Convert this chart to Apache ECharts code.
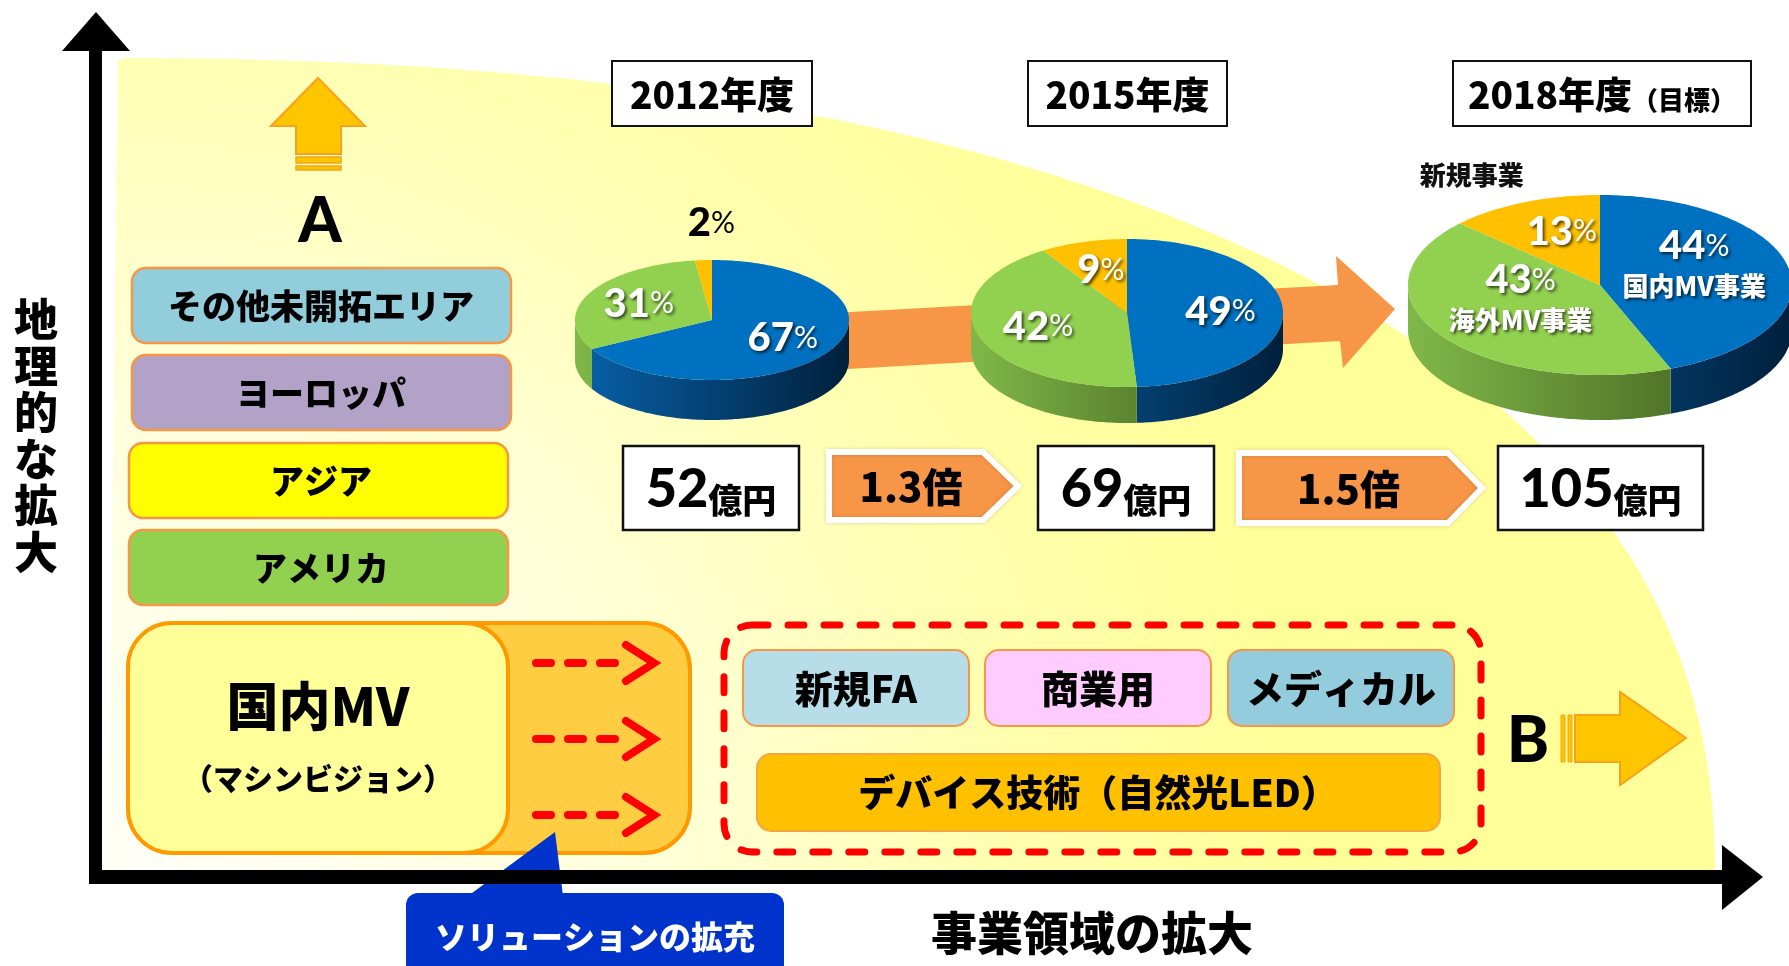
<!DOCTYPE html>
<html><head><meta charset="utf-8">
<script src="https://cdn.jsdelivr.net/npm/echarts@6/dist/echarts.min.js"></script>
<style>html,body{margin:0;padding:0;background:#fff}#c{width:1789px;height:966px}</style>
</head><body><div id="c"></div>
<script>
// ---------------- data ----------------
const categories = ['国内MV事業', '海外MV事業', '新規事業'];
const years = ['2012年度', '2015年度', '2018年度'];
const yearNotes = ['', '', '（目標）'];
const share2012 = [67, 31, 2];
const share2015 = [49, 42, 9];
const share2018 = [44, 43, 13];
const salesOku = [52, 69, 105];
const salesUnit = '億円';
const growthLabels = ['1.3倍', '1.5倍'];
const regions = ['その他未開拓エリア', 'ヨーロッパ', 'アジア', 'アメリカ'];
const newFields = ['新規FA', '商業用', 'メディカル'];
const deviceTech = 'デバイス技術（自然光LED）';
const coreBiz = '国内MV';
const coreBizSub = '（マシンビジョン）';
const solution = 'ソリューションの拡充';
const axisY = '地理的な拡大';
const axisX = '事業領域の拡大';

// ---------------- layout / style ----------------
const JP = '"Noto Sans CJK JP", "Noto Sans", sans-serif';
const NUM = 'Lato, "Noto Sans", sans-serif';
const W = 900;
const pieGeo = [
  {cx: 712, cy: 320, rx: 137, ry: 60, d: 40, lr: 0.6, names: false},
  {cx: 1127, cy: 313, rx: 156, ry: 74, d: 36, lr: 0.6, names: false},
  {cx: 1600, cy: 285, rx: 192, ry: 90, d: 45, lr: 0.5, names: true}
];
const catColors = ['#0070C0', '#92D050', '#FFC000'];
const sideColors = [['#0862AA', '#00203C'], ['#80B848', '#3A551A'], ['#E6AE00', '#785600']];

const shares = [share2012, share2015, share2018];
const pieData = [];
shares.forEach((arr, p) => {
  const tot = arr.reduce((a, b) => a + b, 0);
  let cum = 0;
  arr.forEach((v, c) => {
    pieData.push([p, c, v, cum / tot * 360, (cum + v) / tot * 360]);
    cum += v;
  });
});

function renderPie(params, api) {
  const p = api.value(0), c = api.value(1), v = api.value(2), a1 = api.value(3), a2 = api.value(4);
  const g = pieGeo[p];
  const pt = (deg, dy, f) => {
    const r = deg * Math.PI / 180; f = f || 1; dy = dy || 0;
    return [g.cx + g.rx * f * Math.sin(r), g.cy - g.ry * f * Math.cos(r) + dy];
  };
  const children = [];
  const s = Math.max(a1, 90), e = Math.min(a2, 270);
  if (e > s) {
    const pts = [];
    for (let t = s; t < e; t += 1) pts.push(pt(t));
    pts.push(pt(e));
    for (let t = e; t > s; t -= 1) pts.push(pt(t, g.d));
    pts.push(pt(s, g.d));
    children.push({type: 'polygon', z2: 1, shape: {points: pts},
      style: {fill: new echarts.graphic.LinearGradient(g.cx - g.rx, 0, g.cx + g.rx, 0,
        [{offset: 0, color: sideColors[c][0]}, {offset: 1, color: sideColors[c][1]}], true)}});
  }
  const tp = [[g.cx, g.cy]];
  for (let t = a1; t < a2; t += 1) tp.push(pt(t));
  tp.push(pt(a2));
  children.push({type: 'polygon', z2: 2, shape: {points: tp}, style: {fill: catColors[c]}});

  const mid = (a1 + a2) / 2;
  const pctText = '{n|' + v + '}{p|%}';
  const shadow = {textShadowColor: 'rgba(0,0,0,0.65)', textShadowBlur: 3, textShadowOffsetX: 2, textShadowOffsetY: 2};
  const richW = {n: {fontSize: 40, fontWeight: W, fontFamily: NUM, fill: '#fff'},
                 p: {fontSize: 30, fontWeight: 'normal', fontFamily: NUM, fill: '#fff'}};
  const richB = {n: {fontSize: 40, fontWeight: W, fontFamily: NUM, fill: '#000'},
                 p: {fontSize: 30, fontWeight: 'normal', fontFamily: NUM, fill: '#000'}};
  if (v < 5) {
    const q = pt(mid, 0, 1);
    children.push({type: 'text', z2: 5, x: q[0] + 8, y: g.cy - g.ry - 37,
      style: {text: pctText, rich: richB, align: 'center', verticalAlign: 'middle'}});
  } else {
    const q = pt(mid, 0, g.lr);
    let py = q[1];
    if (g.names && v >= 20) py = q[1] - 30;
    if (g.names && v < 20) py = q[1] - 12;
    children.push({type: 'text', z2: 5, x: q[0], y: py,
      style: Object.assign({text: pctText, rich: richW, align: 'center', verticalAlign: 'middle'}, shadow)});
    if (g.names) {
      if (v >= 20) {
        children.push({type: 'text', z2: 5, x: q[0], y: q[1] + 10,
          style: Object.assign({text: categories[c], fontSize: 26, fontWeight: W, fontFamily: JP,
            fill: '#fff', align: 'center', verticalAlign: 'middle'}, shadow)});
      } else {
        const o = pt(mid, 0, 1);
        children.push({type: 'text', z2: 5, x: o[0], y: g.cy - g.ry - 20,
          style: {text: categories[c], fontSize: 26, fontWeight: W, fontFamily: JP,
            fill: '#111', align: 'right', verticalAlign: 'middle'}});
      }
    }
  }
  return {type: 'group', children: children};
}

// ---------------- decorations (graphic) ----------------
const els = [];
function rect(x, y, w, h, r, style, z) {
  els.push({type: 'rect', z: z == null ? 3 : z, shape: {x: x, y: y, width: w, height: h, r: r}, style: style});
}
function poly(points, style, z) {
  els.push({type: 'polygon', z: z == null ? 3 : z, shape: {points: points}, style: style});
}
function line(pts, style, z) {
  els.push({type: 'polyline', z: z == null ? 3 : z, shape: {points: pts}, style: style});
}
function text(x, y, t, size, extra, z) {
  els.push({type: 'text', z: z == null ? 4 : z, x: x, y: y,
    style: Object.assign({text: t, fontSize: size, fontWeight: W, fontFamily: JP, fill: '#000',
      align: 'center', verticalAlign: 'middle'}, extra || {})});
}

// yellow quarter-region background
(function () {
  const cx = 100, cy = 880, a = 1615, b = 822, n = 2.3;
  const pts = [[108, 870], [118, 62]];
  for (let i = 0; i <= 200; i++) {
    const t = Math.PI / 2 * (1 - i / 200);
    const x = cx + a * Math.pow(Math.cos(t), 2 / n);
    const y = cy - b * Math.pow(Math.sin(t), 2 / n);
    if (x >= 118) pts.push([x, Math.min(y, 870)]);
  }
  pts.push([1715, 870]);
  poly(pts, {fill: new echarts.graphic.RadialGradient(160, 870, 1150,
    [{offset: 0, color: '#FFFFF8'}, {offset: 0.4, color: '#FFFFDC'}, {offset: 0.75, color: '#FFFFAE'}, {offset: 1, color: '#FFFF99'}], true)}, 0);
})();

// big orange arrow behind pies
poly([[760, 317], [1338, 285], [1336, 256], [1395, 309], [1343, 368], [1340, 341], [760, 374]],
  {fill: '#F79646'}, 1);

// axes
rect(89, 45, 13, 839, 0, {fill: '#000'}, 6);
poly([[62, 51], [96, 12], [130, 51]], {fill: '#000'}, 6);
rect(89, 870, 1636, 14, 0, {fill: '#000'}, 6);
poly([[1722, 845], [1763, 877], [1722, 910]], {fill: '#000'}, 6);
text(36, 436, axisY.split('').join('\n'), 44, {lineHeight: 46.5});
text(1092, 933, axisX, 46);

// up arrow A
poly([[271, 126], [318, 78], [365, 126], [341, 126], [341, 154], [296, 154], [296, 126]],
  {fill: '#FFC600', stroke: '#F7A21E', lineWidth: 2});
rect(296, 157, 45, 6, 0, {fill: '#FFC600', stroke: '#F7A21E', lineWidth: 1.5});
rect(296, 166, 45, 4, 0, {fill: '#FFC600', stroke: '#F7A21E', lineWidth: 1.5});
text(320, 222, 'A', 62, {fontFamily: NUM});

// region boxes
const regionColors = ['#92CDDC', '#B2A2C7', '#FFFF00', '#92D050'];
const regionY = [268, 355, 443, 530];
regions.forEach((r, i) => {
  rect(i < 2 ? 132 : 129, regionY[i], 379, 75, 14, {fill: regionColors[i], stroke: '#F79646', lineWidth: 2.5});
  text(321, regionY[i] + 38, r, 34);
});

// core business block
rect(250, 623, 440, 230, 46, {fill: '#FFCD41', stroke: '#FF9900', lineWidth: 4});
rect(128, 623, 380, 230, 44, {fill: '#FFFF99', stroke: '#FF9900', lineWidth: 4});
text(318, 706, coreBiz, 52);
text(318, 779, coreBizSub, 30);
[663, 739, 815].forEach(y => {
  line([[536, y], [617, y]], {stroke: '#FF0000', lineWidth: 8, lineDash: [15, 17], lineCap: 'round', fill: null});
  line([[626, y - 18], [654, y], [626, y + 18]], {stroke: '#FF0000', lineWidth: 8, lineCap: 'round', lineJoin: 'miter', fill: null});
});

// solution callout
poly([[468, 896], [555, 832], [563, 896]], {fill: '#0033CC'}, 5);
rect(406, 893, 378, 95, 12, {fill: '#0033CC'}, 5);
text(595, 937, solution, 32, {fill: '#fff'}, 6);

// new fields dashed frame
rect(724, 625, 757, 227, 28, {fill: null, stroke: '#FF0000', lineWidth: 7, lineDash: [16, 20], lineCap: 'round'});
const fieldColors = ['#B7DEE8', '#FFCCFF', '#93CDDD'];
const fieldX = [743, 985, 1228];
newFields.forEach((f, i) => {
  rect(fieldX[i], 650, 226, 76, 14, {fill: fieldColors[i], stroke: '#F79646', lineWidth: 2});
  text(fieldX[i] + 113, 689, f, 38);
});
rect(757, 754, 683, 77, 14, {fill: '#FFC000', stroke: '#F7A540', lineWidth: 2});
text(1098, 793, deviceTech, 37);

// B arrow
text(1528, 741, 'B', 64, {fontFamily: NUM});
rect(1561, 715, 4, 47, 0, {fill: '#FFC600', stroke: '#F7A21E', lineWidth: 1});
rect(1568, 715, 4, 47, 0, {fill: '#FFC600', stroke: '#F7A21E', lineWidth: 1});
poly([[1575, 715], [1620, 715], [1620, 692], [1686, 738], [1620, 785], [1620, 762], [1575, 762]],
  {fill: '#FFC600', stroke: '#F7A21E', lineWidth: 2});

// year boxes
const yearBox = [[612, 61, 200], [1028, 61, 199], [1453, 61, 298]];
years.forEach((y, i) => {
  const b = yearBox[i];
  rect(b[0], b[1], b[2], 65, 0, {fill: '#fff', stroke: '#111', lineWidth: 2});
  els.push({type: 'text', z: 4, x: b[0] + b[2] / 2, y: b[1] + 34,
    style: {text: '{a|' + y + '}' + (yearNotes[i] ? '{b|' + yearNotes[i] + '}' : ''),
      align: 'center', verticalAlign: 'middle',
      rich: {a: {fontSize: 37, fontWeight: W, fontFamily: JP, fill: '#000', verticalAlign: 'bottom'},
             b: {fontSize: 26, fontWeight: W, fontFamily: JP, fill: '#000', verticalAlign: 'bottom'}}}});
});

// sales boxes
const salesBox = [[623, 176], [1038, 176], [1498, 205]];
salesOku.forEach((v, i) => {
  const b = salesBox[i];
  rect(b[0], 446, b[1], 84, 0, {fill: '#fff', stroke: '#111', lineWidth: 2.5});
  els.push({type: 'text', z: 4, x: b[0] + b[1] / 2, y: 490,
    style: {text: '{n|' + v + '}{u|' + salesUnit + '}', align: 'center', verticalAlign: 'middle',
      rich: {n: {fontSize: 54, fontWeight: W, fontFamily: NUM, fill: '#000', verticalAlign: 'bottom'},
             u: {fontSize: 34, fontWeight: W, fontFamily: JP, fill: '#000', verticalAlign: 'bottom'}}}});
});

// growth arrows
const growthGeo = [[829, 983, 1018, 452, 520], [1239, 1448, 1482, 453, 523]];
growthLabels.forEach((g, i) => {
  const q = growthGeo[i];
  const my = (q[3] + q[4]) / 2;
  poly([[q[0], q[3]], [q[1], q[3]], [q[2], my], [q[1], q[4]], [q[0], q[4]]],
    {fill: '#F79646', stroke: '#fff', lineWidth: 6, shadowBlur: 4, shadowColor: 'rgba(0,0,0,0.15)'});
  text((q[0] + q[1]) / 2 + 5, my + 1, g, 40);
});

const chart = echarts.init(document.getElementById('c'), null, {renderer: 'canvas'});
chart.setOption({
  animation: false,
  backgroundColor: '#fff',
  graphic: {elements: els},
  series: [{type: 'custom', coordinateSystem: 'none', z: 2, silent: true,
    renderItem: renderPie, data: pieData}]
});
</script>
</body></html>
